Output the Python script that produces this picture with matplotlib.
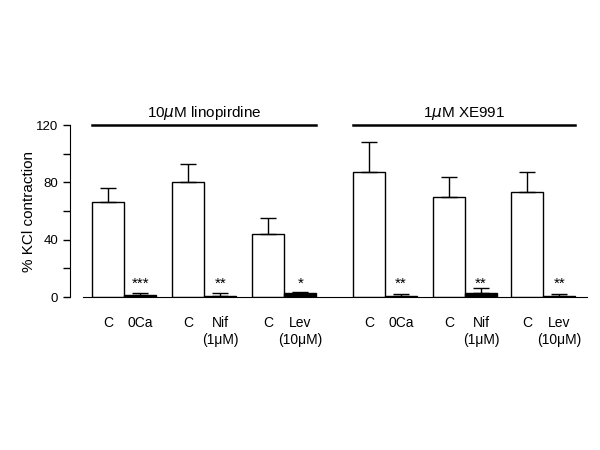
import matplotlib
matplotlib.use('Agg')
import matplotlib.pyplot as plt
import numpy as np

plt.rcParams['font.family'] = ['Liberation Sans', 'DejaVu Sans']

# Data
labels = ['C', '0Ca', 'C', 'Nif\n(1μM)', 'C', 'Lev\n(10μM)',
          'C', '0Ca', 'C', 'Nif\n(1μM)', 'C', 'Lev\n(10μM)']
values = [66, 1.5, 80, 1, 44, 3, 87, 1, 69.5, 3, 73, 1]
errors = [10, 1.5, 13, 1.5, 11, 0.5, 21, 1, 14.5, 3, 14, 1]
stars = ['', '***', '', '**', '', '*', '', '**', '', '**', '', '**']
groups = ['10$\\mu$M linopirdine', '1$\\mu$M XE991']

# Bar positions (control bar, then treatment bar right next to it)
pair_pos = [0, 2.5, 5, 8.15, 10.65, 13.1]
pos = []
for p in pair_pos:
    pos += [p, p + 1]
pos = np.array(pos)
colors = ['white' if i % 2 == 0 else 'black' for i in range(len(values))]

fig = plt.figure(figsize=(6, 4.5), dpi=100)
ax = fig.add_axes([0.1167, 0.34, 0.8663, 0.3822])

ax.bar(pos, values, width=1.0, color=colors, edgecolor='black', linewidth=1.0,
       yerr=[np.zeros(len(errors)), errors], capsize=6,
       error_kw=dict(ecolor='black', elinewidth=1.0, capthick=1.0))

# Significance asterisks
for x, s in zip(pos, stars):
    if s:
        ax.text(x, 4, s, ha='center', va='bottom', fontsize=11)

# Group brackets with titles
for i, g in enumerate(groups):
    x0 = pos[6 * i] - 0.5
    x1 = pos[6 * i + 5] + 0.5
    ax.plot([x0, x1], [120, 120], color='black', linewidth=1.8, clip_on=False)
    ax.text((x0 + x1) / 2, 122, g, ha='center', va='bottom', fontsize=11)

ax.set_xlim(-1.2, 15.05)
ax.set_ylim(0, 120)
ax.spines['top'].set_visible(False)
ax.spines['right'].set_visible(False)
ax.spines['bottom'].set_bounds(-0.8, 14.95)
ax.spines['left'].set_bounds(0, 120)

ax.set_yticks(range(0, 121, 20))
ax.set_yticklabels(['0', '', '40', '', '80', '', '120'], fontsize=9.5)
ax.tick_params(axis='y', direction='out', length=5, width=1)
ax.set_xticks(pos)
ax.set_xticklabels(labels, fontsize=10)
ax.tick_params(axis='x', length=0, pad=14)
ax.set_ylabel('% KCl contraction', fontsize=11, labelpad=0)

fig.savefig('out.png', dpi=100)
